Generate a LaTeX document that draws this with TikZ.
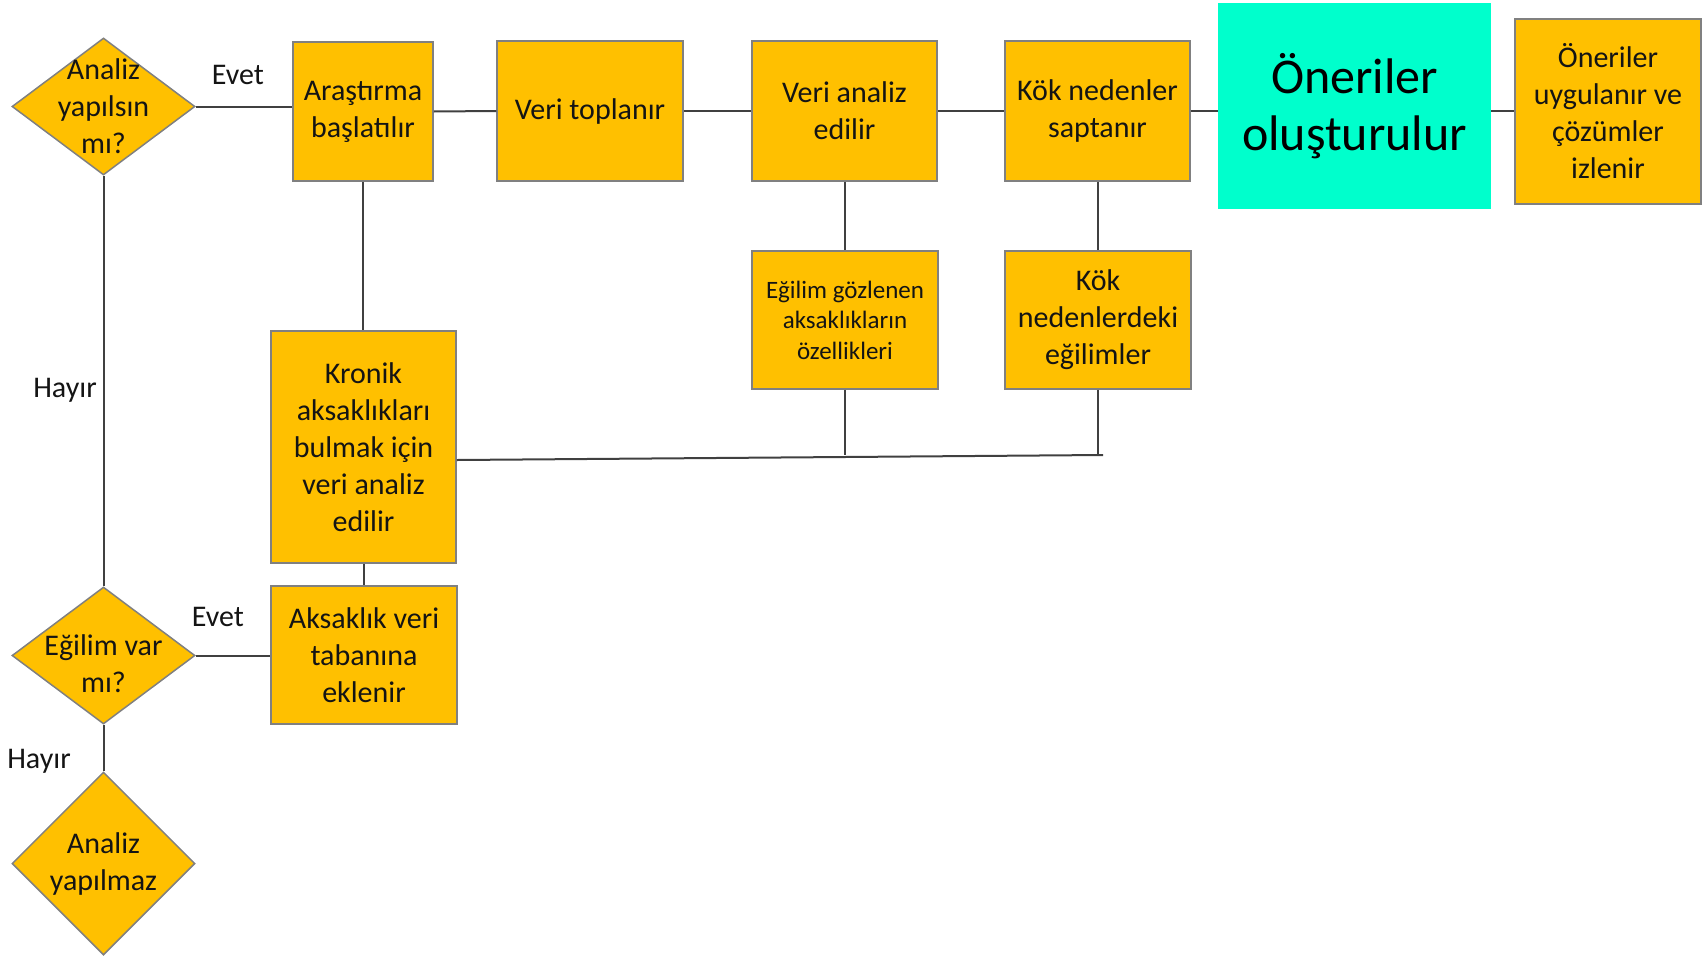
\documentclass[tikz,border=0pt]{standalone}
\usepackage{fontspec}
\setmainfont{Carlito}
\usetikzlibrary{shapes.geometric}
\definecolor{orangec}{RGB}{255,192,0}
\definecolor{cyanc}{RGB}{0,255,204}
\definecolor{bordc}{RGB}{128,128,128}
\definecolor{linec}{RGB}{64,64,64}
\definecolor{txtc}{RGB}{20,20,20}
\begin{document}
\begin{tikzpicture}[x=1pt,y=-1pt,
  box/.style={draw=bordc, fill=orangec, line width=1.5pt, inner sep=0pt, align=center, text=txtc, font=\fontsize{30}{37}\selectfont},
  dia/.style={draw=bordc, fill=orangec, line width=1.5pt, diamond, inner sep=0pt},
  dtext/.style={align=center, text=txtc, font=\fontsize{30}{37}\selectfont},
  lbl/.style={text=txtc, font=\fontsize{30}{34}\selectfont},
  conn/.style={draw=linec, line width=2pt}]
\useasboundingbox (0,0) rectangle (1707,956);

% decisions
\node[dia, minimum width=183pt, minimum height=137pt] (d1) at (103.5,106.5) {};
\node[dtext] (t1) at (d1) {Analiz\\yapılsın\\mı?};
\node[dia, minimum width=183pt, minimum height=137pt] (d2) at (103.5,655.5) {};
\node[dtext] (t2) at (103.5,664) {Eğilim var\\mı?};
\node[dia, minimum width=183pt, minimum height=183pt] (d3) at (103.5,863.5) {};
\node[dtext] (t3) at (d3) {Analiz\\yapılmaz};

% top row
\node[box, minimum width=140pt, minimum height=139pt] (a) at (363,111.5) {Araştırma\\başlatılır};
\node[box, minimum width=186pt, minimum height=140pt] (b) at (590,111) {Veri toplanır};
\node[box, minimum width=185pt, minimum height=140pt] (c) at (844.5,111) {Veri analiz\\edilir};
\node[box, minimum width=185pt, minimum height=140pt] (d) at (1097.5,111) {Kök nedenler\\saptanır};
\node[fill=cyanc, minimum width=273pt, minimum height=206pt, inner sep=0pt, align=center, text=black, font=\fontsize{50}{57}\selectfont] (e) at (1354.5,106) {Öneriler\\oluşturulur};
\node[box, minimum width=186pt, minimum height=185pt] (f) at (1608,111.5) {Öneriler\\uygulanır ve\\çözümler\\izlenir};

% second row
\node[box, minimum width=186pt, minimum height=138pt, font=\fontsize{25}{30.5}\selectfont] (g) at (845,320) {Eğilim gözlenen\\aksaklıkların\\özellikleri};
\node[box, minimum width=186pt, minimum height=138pt] (h) at (1098,320) {Kök\\nedenlerdeki\\eğilimler};

% left column
\node[box, minimum width=185pt, minimum height=232pt] (k) at (363.5,447) {Kronik\\aksaklıkları\\bulmak için\\veri analiz\\edilir};
\node[box, minimum width=186pt, minimum height=138pt] (m) at (364,655) {Aksaklık veri\\tabanına\\eklenir};

% labels
\node[lbl] (l1) at (238,75) {Evet};
\node[lbl] (l2) at (218,617) {Evet};
\node[lbl] (l3) at (65,390) {Hayır};
\node[lbl] (l4) at (39,761) {Hayır};

% connectors
\coordinate (jr) at (1103,455);
\path[conn] (d1.east) -- (d1.east -| a.west);
\path[conn] (a.east) -- (b.west);
\path[conn] (b.west -| b.east) -- (c.west);
\path[conn] (c.east) -- (d.west);
\path[conn] (d.east) -- (d.east -| e.west);
\path[conn] (d.east -| e.east) -- (d.east -| f.west);
\path[conn] (d1.south) -- (d2.north);
\path[conn] (d2.south) -- (d3.north);
\path[conn] (d2.east) -- (d2.east -| m.west);
\path[conn] (a.south) -- (a.south |- k.north);
\path[conn] (k.south) -- (k.south |- m.north);
\path[conn] (c.south) -- (c.south |- g.north);
\path[conn] (d.south) -- (d.south |- h.north);
\path[conn] ([yshift=-13pt]k.east) -- (jr);
\path[conn] (g.south) -- (g.south |- jr);
\path[conn] (h.south) -- (h.south |- jr);
\end{tikzpicture}
\end{document}
